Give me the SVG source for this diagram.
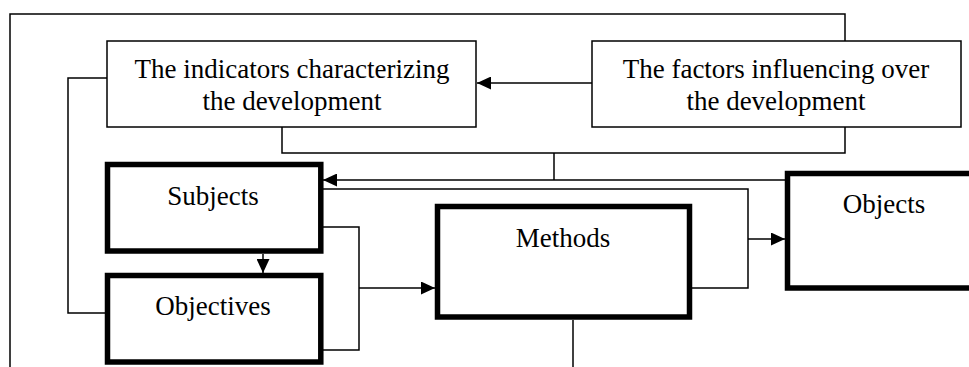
<svg xmlns="http://www.w3.org/2000/svg" width="969" height="367" viewBox="0 0 969 367">
<style>
.thin{fill:#fff;stroke:#000;stroke-width:1.5}
.thick{fill:#fff;stroke:#000;stroke-width:5.5}
.c{fill:none;stroke:#000;stroke-width:1.5}
text{font-family:"Liberation Serif","Times New Roman",serif;font-size:27px;fill:#000;text-anchor:middle}
</style>
<defs>
<marker id="ah" markerUnits="userSpaceOnUse" markerWidth="14" markerHeight="13" refX="14" refY="6.5" orient="auto">
<path d="M0,0 L14,6.5 L0,13 Z" fill="#000"/>
</marker>
</defs>
<rect width="969" height="367" fill="#fff"/>
<g id="connectors">
<path class="c" d="M10,367 V14 H845 V41"/>
<path class="c" d="M282,127 V153 H845 V127"/>
<path class="c" d="M554,153 V180"/>
<path class="c" d="M592,83 H477" marker-end="url(#ah)"/>
<path class="c" d="M107,78 H68 V313 H105"/>
<path class="c" d="M785,180 H323" marker-end="url(#ah)"/>
<path class="c" d="M323,189 H748 V288 H692"/>
<path class="c" d="M748,239 H785" marker-end="url(#ah)"/>
<path class="c" d="M323,227 H359 V350 H323"/>
<path class="c" d="M359,288 H435" marker-end="url(#ah)"/>
<path class="c" d="M263,254 V273" marker-end="url(#ah)"/>
<path class="c" d="M573,320 V367"/>
</g>
<g id="indicators">
<rect class="thin" x="107" y="41" width="369" height="86"/>
<text x="292" y="78">The indicators characterizing</text>
<text x="292" y="110">the development</text>
</g>
<g id="factors">
<rect class="thin" x="592" y="41" width="369" height="86"/>
<text x="776" y="78">The factors influencing over</text>
<text x="776" y="110">the development</text>
</g>
<g id="subjects">
<rect class="thick" x="107.5" y="164.5" width="213.3" height="86.5"/>
<text x="213" y="205">Subjects</text>
</g>
<g id="objectives">
<rect class="thick" x="107.5" y="275.5" width="213.3" height="86.5"/>
<text x="213" y="315">Objectives</text>
</g>
<g id="methods">
<rect class="thick" x="437.5" y="206.5" width="252" height="110.5"/>
<text x="563" y="247">Methods</text>
</g>
<g id="objects">
<rect class="thick" x="787.5" y="173.5" width="200" height="114.5"/>
<text x="884" y="213">Objects</text>
</g>
</svg>
